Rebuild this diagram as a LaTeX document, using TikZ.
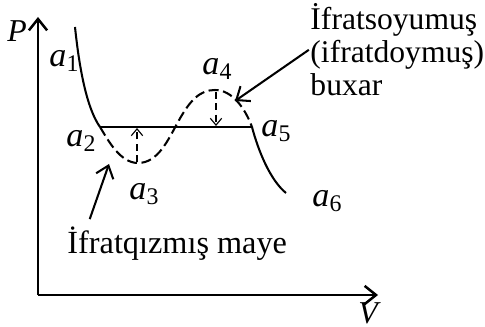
\documentclass[tikz,border=0pt]{standalone}
\usepackage{fontspec}
\setmainfont{Liberation Serif}
\usetikzlibrary{arrows.meta}
\newcommand{\asub}[1]{a\textsubscript{\upshape #1}}

\begin{document}
\begin{tikzpicture}[x=0.44pt, y=-0.44pt,
  lbl/.style={anchor=base west, inner sep=0pt, font=\fontsize{15}{17}\selectfont\itshape},
  axlbl/.style={anchor=base west, inner sep=0pt, font=\fontsize{14}{16}\selectfont\itshape},
  note/.style={inner sep=0pt, font=\fontsize{13.9}{14.6}\selectfont, align=left},
  axisline/.style={line width=1.1pt, -{Straight Barb[length=5pt, width=8pt]}},
  isoline/.style={line width=0.9pt},
  unstable/.style={line width=0.9pt, dash pattern=on 4.4pt off 2pt},
  jump/.style={line width=0.5pt, densely dashed, -{Straight Barb[length=3pt, width=5pt]}},
  pointer/.style={line width=0.9pt, -{Straight Barb[length=5pt, width=8pt]}}]
  \useasboundingbox (0,0) rectangle (485,327);

  % axes
  \coordinate (o) at (38,295);
  \coordinate (ptop) at (38,17);
  \coordinate (vend) at (378,295);
  \draw[axisline] (o) -- (ptop);
  \draw[axisline] (o) -- (vend);
  \node[axlbl] (p) at (7,42) {P};
  \node[axlbl] (v) at (358,323) {V};

  % isotherm points
  \coordinate (top) at (75,27);
  \coordinate (l2) at (100,127);
  \coordinate (l3) at (138,163);
  \coordinate (mid) at (178,122);
  \coordinate (l4) at (215,90);
  \coordinate (l5) at (252,127);
  \coordinate (l6) at (286,193);

  % solid branches and the flat part
  \draw[isoline] (top) .. controls (80,75) and (88,110) .. (l2);
  \draw[isoline] (l2) -- (l5);
  \draw[isoline] (l5) .. controls (258,150) and (270,180) .. (l6);

  % unstable part
  \draw[unstable] (l2) .. controls (108,140) and (120,163) .. (l3)
    .. controls (158,163) and (168,140) .. (mid)
    .. controls (190,100) and (200,90) .. (l4)
    .. controls (232,90) and (245,108) .. (l5);

  % small jumps
  \coordinate (j3a) at (137,162);
  \coordinate (j3b) at (137,128);
  \coordinate (j4a) at (216,92);
  \coordinate (j4b) at (216,126);
  \draw[jump] (j3a) -- (j3b);
  \draw[jump] (j4a) -- (j4b);

  % point labels
  \node[lbl] (n1) at (49,67) {\asub{1}};
  \node[lbl] (n2) at (66,147) {\asub{2}};
  \node[lbl] (n3) at (129,200) {\asub{3}};
  \node[lbl] (n4) at (202,75) {\asub{4}};
  \node[lbl] (n5) at (261,137) {\asub{5}};
  \node[lbl] (n6) at (312,207) {\asub{6}};

  % notes
  \node[note, anchor=north west] (vapour) at (310,3) {İfratsoyumuş\\(ifratdoymuş)\\buxar};
  \node[note, anchor=base west, font=\fontsize{14.2}{15}\selectfont] (liquid) at (67,253) {İfratqızmış maye};
  \coordinate (vtip) at (235,101);
  \coordinate (ltip) at (109,164);
  \draw[pointer] ([xshift=-0.5pt]vapour.west) -- (vtip);
  \draw[pointer] ([xshift=10pt, yshift=3pt]liquid.north west) -- (ltip);
\end{tikzpicture}
\end{document}
